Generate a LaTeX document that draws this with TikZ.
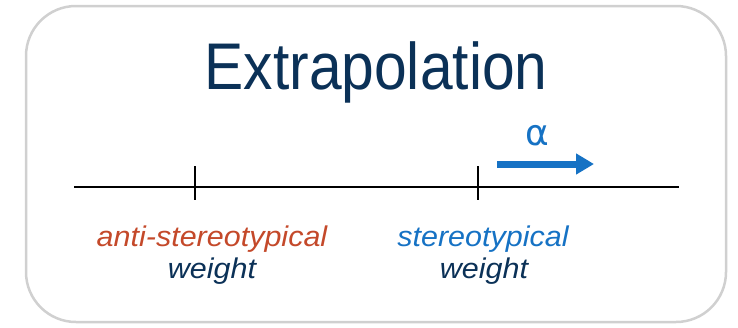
\documentclass[tikz,border=0pt]{standalone}
\usepackage{fontspec}
\setmainfont{Liberation Sans}
\newfontfamily\titlefont[FakeStretch=0.89]{Liberation Sans}
\newfontfamily\labelfont[FakeStretch=1.07]{Liberation Sans}
\newfontfamily\greekfont{DejaVu Sans}
\usetikzlibrary{arrows.meta}
\definecolor{navy}{HTML}{0B3157}
\definecolor{accblue}{HTML}{1672C4}
\definecolor{accorange}{HTML}{C4492A}
\definecolor{framegray}{HTML}{D0D0D0}
\tikzset{
  frame/.style={draw=framegray, line width=2.5pt, rounded corners=50pt},
  axisline/.style={draw=black, line width=2.4pt},
  tickline/.style={draw=black, line width=2.4pt},
  lbl/.style={inner sep=0pt, anchor=base, font=\labelfont\itshape\fontsize{28.5}{30}\selectfont},
  alphaarrow/.style={draw=accblue, line width=7pt, -{Triangle[length=18pt,width=20pt]}}
}
\begin{document}
\begin{tikzpicture}[x=1pt,y=-1pt]
\useasboundingbox (0,0) rectangle (738,327);
\path[frame] (26,6) rectangle (726,322);
\node[inner sep=0pt, anchor=base, text=navy, font=\titlefont\fontsize{66}{70}\selectfont] (title) at (376,89) {Extrapolation};
\coordinate (axL) at (74,187);
\coordinate (axR) at (679,187);
\path[axisline] (axL) -- (axR);
\coordinate (t1top) at (195,166);
\coordinate (t1bot) at (195,200);
\coordinate (t2top) at (478,166);
\coordinate (t2bot) at (478,200);
\path[tickline] (t1top) -- (t1bot);
\path[tickline] (t2top) -- (t2bot);
\coordinate (arS) at (497,164);
\coordinate (arE) at (594,164);
\path[alphaarrow] (arS) -- (arE);
\node[inner sep=0pt, anchor=base, text=accblue, font=\greekfont\fontsize{36}{38}\selectfont] (alpha) at (537,145) {α};
\node[lbl, text=accorange] (anti) at (212,246) {anti-stereotypical};
\node[lbl, text=navy] (w1) at (212,278) {weight};
\node[lbl, text=accblue] (stereo) at (483,246) {stereotypical};
\node[lbl, text=navy] (w2) at (484,278) {weight};
\end{tikzpicture}
\end{document}
